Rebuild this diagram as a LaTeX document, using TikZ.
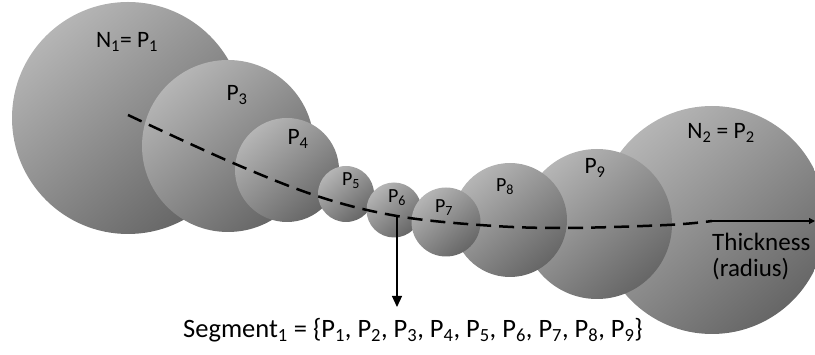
\documentclass[tikz,border=0pt]{standalone}
\usepackage{fontspec}
\setmainfont{Carlito}
\usetikzlibrary{arrows.meta}
\begin{document}
\begin{tikzpicture}[x=1pt,y=-1pt,
  ball/.style={circle, inner sep=0pt, minimum size=#1, top color=black!29, bottom color=black!60, shading angle=40},
  lab/.style={font=\fontsize{23.5}{26}\selectfont, inner sep=0pt},
  slab/.style={font=\fontsize{20}{22}\selectfont, inner sep=0pt}]
\useasboundingbox (0,0) rectangle (815,355);
% circles (drawing order)
\node[ball=232pt] (p1) at (128,118) {};
\node[ball=172pt] (p3) at (228,146) {};
\node[ball=104pt] (p4) at (287,170) {};
\node[ball=56pt] (p5) at (346,194) {};
\node[ball=55pt] (p6) at (394,210) {};
\node[ball=228pt] (p2) at (712,220) {};
\node[ball=150pt] (p9) at (597,224) {};
\node[ball=114pt] (p8) at (510,220) {};
\node[ball=69pt] (p7) at (446,222) {};
% labels
\node[lab] (l1) at (127,42) {N\textsubscript{1}= P\textsubscript{1}};
\node[lab] (l3) at (237,95) {P\textsubscript{3}};
\node[lab] (l4) at (298,139) {P\textsubscript{4}};
\node[slab] (l5) at (351,181) {P\textsubscript{5}};
\node[slab] (l6) at (397,198) {P\textsubscript{6}};
\node[slab] (l7) at (444,208) {P\textsubscript{7}};
\node[slab] (l8) at (505,187) {P\textsubscript{8}};
\node[lab] (l9) at (595,168) {P\textsubscript{9}};
\node[lab] (l2) at (721,133) {N\textsubscript{2} = P\textsubscript{2}};
\node[lab, font=\fontsize{25}{27}\selectfont, align=left, anchor=west] (th) at (712,257) {Thickness\\[-1pt](radius)};
\node[lab, font=\fontsize{26.5}{28}\selectfont] (seg) at (413,330) {Segment\textsubscript{1} = \{P\textsubscript{1}, P\textsubscript{2}, P\textsubscript{3}, P\textsubscript{4}, P\textsubscript{5}, P\textsubscript{6}, P\textsubscript{7}, P\textsubscript{8}, P\textsubscript{9}\}};
% centre line
\coordinate (c1) at (128,115);
\coordinate (c6) at (397,216);
\coordinate (c2) at (712,221);
\coordinate (edge) at (815,221);
\coordinate (tip) at (397,307);
\draw[line width=2.5pt, dash pattern=on 15pt off 8pt] plot[smooth, tension=0.6] coordinates {(c1) (233,163) (320,197) (c6) (480,225) (560,228) (667,225) (c2)};
\draw[line width=1.2pt, -{Triangle[width=10pt,length=11pt]}] (c6) -- (tip);
\draw[line width=1.2pt, -{Triangle[width=6pt,length=6pt]}] (c2) -- (edge);
\end{tikzpicture}
\end{document}
